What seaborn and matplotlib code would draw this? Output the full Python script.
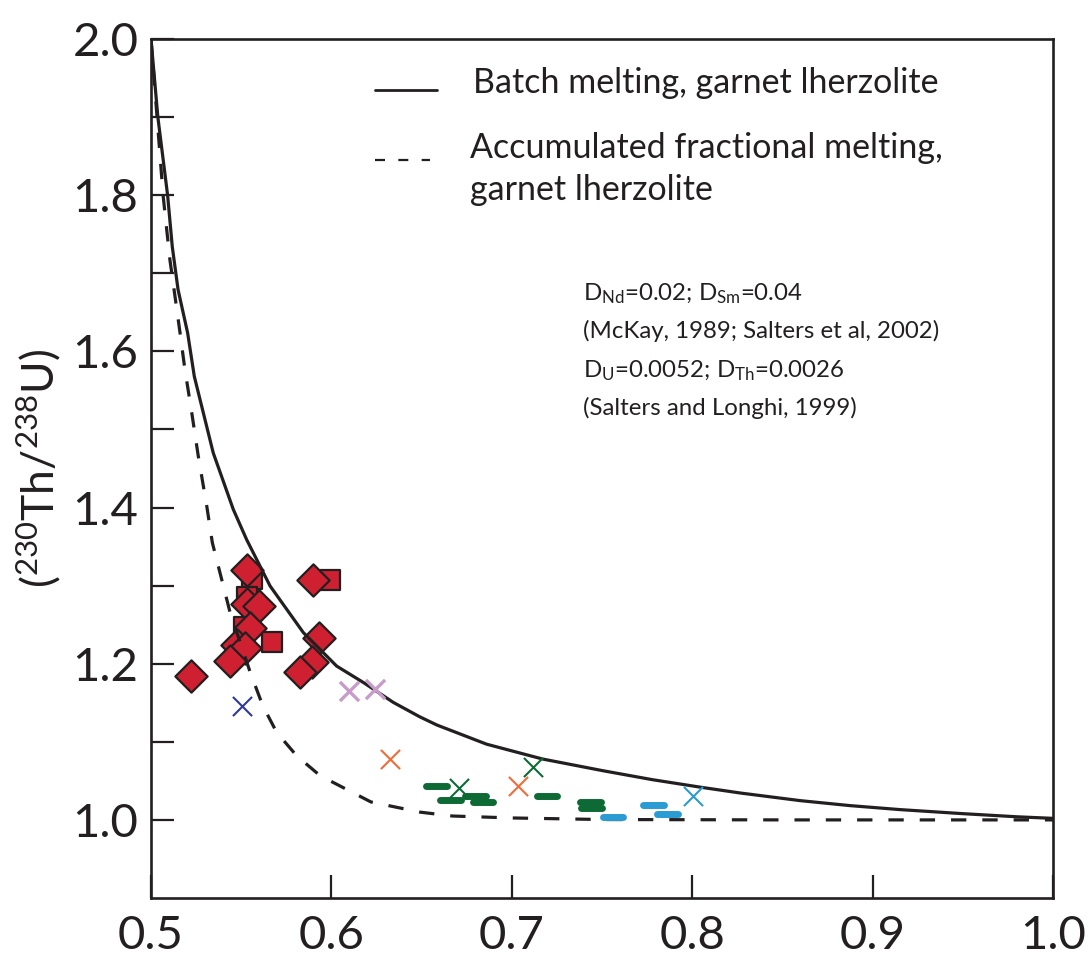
import numpy as np
import pandas as pd
import matplotlib
matplotlib.use("Agg")
import matplotlib.pyplot as plt
import seaborn as sns
from matplotlib.ticker import FixedLocator

# ---------------- data ----------------
batch_x = [0.500, 0.5038, 0.5092, 0.5118, 0.5150, 0.5203, 0.5240, 0.5345, 0.5456,
           0.5530, 0.5660, 0.5844, 0.6029, 0.6177, 0.6343, 0.6490, 0.6585, 0.6860,
           0.7170, 0.7505, 0.7780, 0.8043, 0.8265, 0.8598, 0.8875, 0.9152, 0.9500,
           0.9800, 1.000]
batch_y = [2.000, 1.900, 1.800, 1.734, 1.679, 1.6237, 1.568, 1.470, 1.3977,
           1.359, 1.2996, 1.240, 1.197, 1.176, 1.1505, 1.132, 1.1215, 1.097,
           1.078, 1.063, 1.0515, 1.0420, 1.0345, 1.0247, 1.0183, 1.0132, 1.008,
           1.004, 1.002]

frac_x = [0.500, 0.5067, 0.5105, 0.5133, 0.5161, 0.5188, 0.5226, 0.5262, 0.5309,
          0.5340, 0.5438, 0.5550, 0.5620, 0.5697, 0.5808, 0.5937, 0.6219, 0.6490,
          0.6670, 0.7000, 0.7500, 0.8500, 1.000]
frac_y = [2.000, 1.800, 1.717, 1.6705, 1.6237, 1.5767, 1.5213, 1.4659, 1.402,
          1.355, 1.266, 1.189, 1.146, 1.112, 1.082, 1.0567, 1.023, 1.010,
          1.005, 1.0025, 1.0005, 1.000, 1.000]

diamond_x = [0.5534, 0.5896, 0.5530, 0.5600, 0.5549, 0.5475, 0.5521, 0.5438,
             0.5220, 0.5931, 0.5894, 0.5826]
diamond_y = [1.320, 1.307, 1.276, 1.274, 1.246, 1.224, 1.2196, 1.204,
             1.1838, 1.2324, 1.2017, 1.189]

square_x = [0.5558, 0.5992, 0.5530, 0.5513, 0.5673]
square_y = [1.309, 1.307, 1.285, 1.2468, 1.228]

cross_x = [0.5506, 0.6099, 0.6243, 0.6325, 0.7036, 0.6709, 0.7115, 0.8002]
cross_y = [1.1456, 1.165, 1.1675, 1.078, 1.043, 1.041, 1.068, 1.031]
cross_group = ["navy", "lilac", "lilac", "orange", "orange", "green", "green", "cyan"]

bar_lo = [0.6527, 0.6602, 0.6740, 0.6786, 0.7137, 0.7378, 0.7381,
          0.7503, 0.7729, 0.7806]
bar_hi = [0.6639, 0.6717, 0.6857, 0.6898, 0.7253, 0.7493, 0.7499,
          0.7619, 0.7844, 0.7924]
bar_y = [1.043, 1.0251, 1.0303, 1.0226, 1.031, 1.0234, 1.015,
         1.0034, 1.0194, 1.008]
bar_group = ["green"] * 7 + ["cyan"] * 3

x_ticks = [0.5, 0.6, 0.7, 0.8, 0.9, 1.0]
x_ticklabels = ["0.5", "0.6", "0.7", "0.8", "0.9", "1.0"]
y_ticks = [1.0, 1.2, 1.4, 1.6, 1.8, 2.0]
y_ticklabels = ["1.0", "1.2", "1.4", "1.6", "1.8", "2.0"]
y_minor = [1.1, 1.3, 1.5, 1.7, 1.9]

legend_labels = ["Batch melting, garnet lherzolite",
                 "Accumulated fractional melting,", "garnet lherzolite"]
note_lines = [r"D$_{\mathrm{Nd}}$=0.02; D$_{\mathrm{Sm}}$=0.04",
              "(McKay, 1989; Salters et al, 2002)",
              r"D$_{\mathrm{U}}$=0.0052; D$_{\mathrm{Th}}$=0.0026",
              "(Salters and Longhi, 1999)"]

# ---------------- style ----------------
INK = "#231F20"
RED = "#CE2030"
palette = {"navy": "#2E3A9A", "lilac": "#C99BCB", "orange": "#F26B3A",
           "green": "#0D6A35", "cyan": "#2A9BD3"}

sns.set_theme(style="ticks")
plt.rcParams["font.family"] = ["Lato", "DejaVu Sans"]
plt.rcParams["mathtext.fontset"] = "custom"
plt.rcParams["mathtext.rm"] = "Lato"
plt.rcParams["mathtext.it"] = "Lato:italic"
plt.rcParams["mathtext.bf"] = "Lato:bold"
plt.rcParams["text.color"] = INK
plt.rcParams["axes.labelcolor"] = INK

fig = plt.figure(figsize=(10.88, 9.73), dpi=100)
ax = fig.add_axes([151 / 1088, 1 - 898 / 973, 902 / 1088, 859 / 973])

# red squares & diamonds (behind curves)
sq_df = pd.DataFrame({"x": square_x, "y": square_y})
sns.scatterplot(data=sq_df, x="x", y="y", ax=ax, marker="s", s=190,
                color=RED, edgecolor=INK, linewidth=1.6, zorder=2, legend=False)
di_df = pd.DataFrame({"x": diamond_x, "y": diamond_y})
sns.scatterplot(data=di_df, x="x", y="y", ax=ax, marker="D", s=270,
                color=RED, edgecolor=INK, linewidth=1.6, zorder=2.2, legend=False)

# model curves
sns.lineplot(x=batch_x, y=batch_y, ax=ax, sort=False, estimator=None,
             color=INK, lw=2.3, zorder=3)
sns.lineplot(x=frac_x, y=frac_y, ax=ax, sort=False, estimator=None,
             color=INK, lw=2.3, linestyle=(0, (4.8, 5.0)), zorder=3)

# horizontal bars
for g in ["green", "cyan"]:
    idx = [i for i, b in enumerate(bar_group) if b == g]
    lc = ax.hlines([bar_y[i] for i in idx], [bar_lo[i] for i in idx],
                   [bar_hi[i] for i in idx], colors=palette[g], linewidth=5.0,
                   zorder=4)
    lc.set_capstyle("round")

# crosses
cr_df = pd.DataFrame({"x": cross_x, "y": cross_y, "g": cross_group})
for g, sub in cr_df.groupby("g", sort=False):
    sns.scatterplot(data=sub, x="x", y="y", ax=ax, marker="x", s=190,
                    color=palette[g], linewidth=2.4 if g == "lilac" else 1.5,
                    zorder=5, legend=False)

# axes setup
ax.set_xlim(0.5, 1.0)
ax.set_ylim(0.9, 2.0)
ax.xaxis.set_major_locator(FixedLocator(x_ticks))
ax.set_xticklabels(x_ticklabels)
ax.yaxis.set_major_locator(FixedLocator(y_ticks))
ax.set_yticklabels(y_ticklabels)
ax.yaxis.set_minor_locator(FixedLocator(y_minor))
ax.tick_params(axis="both", which="both", direction="in", length=16.5,
               width=1.6, color=INK, labelcolor=INK)
ax.tick_params(axis="both", which="major", labelsize=34)
ax.tick_params(axis="y", which="major", pad=9)
ax.tick_params(axis="x", which="major", pad=12)
ax.tick_params(top=False, right=False, which="both")
for sp in ax.spines.values():
    sp.set_color(INK)
    sp.set_linewidth(1.9)

ax.set_xlabel("")
ax.set_ylabel(r"($^{230}$Th/$^{238}$U)", fontsize=32)
ax.yaxis.set_label_coords(-0.098, 0.5)

# legend (drawn in axes coordinates)
tr = ax.transAxes
ax.plot([0.2483, 0.3171], [0.9406, 0.9406], transform=tr, color=INK, lw=2.0,
        clip_on=False)
ax.plot([0.2483, 0.3093], [0.8591, 0.8591], transform=tr, color=INK, lw=1.6,
        linestyle=(0, (4.5, 6.0)), clip_on=False)
ax.text(0.357, 0.9371, legend_labels[0], transform=tr, fontsize=24.5,
        va="baseline", ha="left")
ax.text(0.354, 0.8615, legend_labels[1], transform=tr, fontsize=24.5,
        va="baseline", ha="left")
ax.text(0.354, 0.8126, legend_labels[2], transform=tr, fontsize=24.5,
        va="baseline", ha="left")

note_y = [0.6962, 0.6519, 0.6065, 0.5623]
for t, yy in zip(note_lines, note_y):
    ax.text(0.4789, yy, t, transform=tr, fontsize=17.3, va="baseline", ha="left")

fig.savefig("out.png", dpi=100)
